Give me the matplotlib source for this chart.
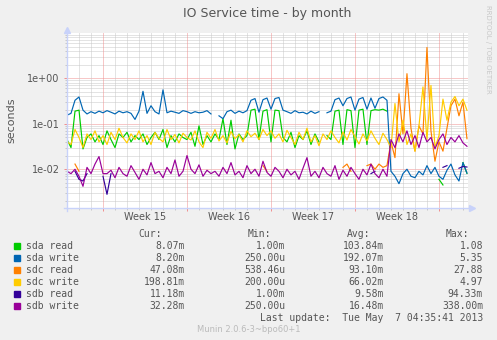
import numpy as np
import matplotlib
matplotlib.use("Agg")
import matplotlib.pyplot as plt
from matplotlib.lines import Line2D
from matplotlib.patches import Rectangle
from matplotlib.transforms import blended_transform_factory

# one sample every 8 hours, values in milliseconds (NaN = unknown)
nan = np.nan

sda_read = [45, 30, 190, 200, 28, 50, 60, 40, 55, 35,
            70, 45, 30, 60, 50, 65, 40, 55, 45, 60,
            35, 50, 65, 45, 75, 30, 55, 40, 60, 50,
            45, 65, 32, 90, 35, 55, 40, 60, 45, 130,
            35, 120, 28, 60, 45, 55, 200, 210, 45, 190,
            205, 40, 200, 195, 50, 40, 65, 30, 55, 45,
            70, 35, 60, 40, nan, 55, 45, 190, 200, 35,
            205, 195, 30, 200, 210, 35, 195, 205, 200, 210,
            190, nan, nan, nan, nan, nan, nan, nan, nan, nan,
            nan, nan, nan, 6, 4.5, nan, nan, nan, nan, 14,
            8.1]

sda_write = [155, 170, 330, 390, 200, 165, 185, 170, 190, 175,
             195, 180, 165, 190, 175, 185, 170, 125, 190, 520,
             170, 250, 185, 165, 560, 175, 190, 180, 170, 195,
             185, 170, 185, 175, 180, 195, 165, nan, 150, 130,
             185, 200, 170, 190, 175, 195, 330, 360, 180, 340,
             370, 210, 360, 380, 200, 185, 170, 195, 175, 180,
             165, 190, 170, 185, nan, 175, 190, 340, 370, 250,
             360, 390, 200, 350, 380, 210, 370, 220, 360, 390,
             330, 9, 7, 4.8, 8, 10, 7, 6.5, 9, 7.5,
             12, 8, 11, 7, 6, 9.5, 13, 7.5, 5.5, 14,
             8.2]

sdc_read = [nan, nan, 13, 9, nan, nan, nan, nan, nan, nan,
            nan, nan, nan, nan, nan, nan, nan, nan, nan, nan,
            nan, nan, nan, nan, nan, nan, nan, nan, nan, nan,
            nan, nan, nan, nan, nan, nan, nan, nan, nan, nan,
            nan, nan, nan, nan, nan, nan, nan, nan, nan, 12,
            9, nan, nan, nan, nan, nan, nan, nan, nan, nan,
            nan, nan, nan, nan, nan, nan, nan, nan, nan, 11,
            13, 9, nan, nan, nan, 12, 13, 10, 13, 11,
            12, 40, 18, 460, 60, 1270, 80, 25, 90, 60,
            4800, 70, 15, 40, 25, 80, 250, 350, 150, 300,
            47]

sdc_write = [40, 35, 75, 50, 30, 60, 45, 70, 40, 55,
             35, 65, 45, 80, 50, 38, 60, 45, 70, 40,
             55, 35, 65, 48, 40, 75, 45, 58, 38, 62,
             50, 44, 70, 40, 30, 65, 48, 75, 42, 55,
             38, 68, 47, 58, 40, 70, 52, 62, 45, 75,
             55, 70, 48, 60, 40, 72, 50, 35, 65, 45,
             80, 40, 55, 33, 60, 45, 70, 50, 38, 66,
             44, 75, 52, 36, 60, 42, 70, 48, 35, 62,
             45, 30, 280, 40, 120, 35, 60, 25, 90, 650,
             45, 700, 30, 55, 350, 120, 300, 400, 250, 350,
             199]

sdb_read = [nan, nan, 9, 6, 5.5, 8, nan, nan, nan, 7,
            2.8, 8, nan, nan, nan, nan, nan, nan, nan, nan,
            nan, nan, nan, nan, nan, nan, nan, nan, nan, nan,
            nan, nan, nan, nan, nan, nan, nan, nan, nan, nan,
            nan, nan, nan, nan, nan, nan, nan, nan, nan, nan,
            nan, nan, nan, nan, nan, nan, nan, nan, nan, nan,
            nan, nan, nan, nan, nan, nan, nan, nan, nan, nan,
            nan, nan, nan, nan, nan, nan, 8, 9, nan, nan,
            nan, nan, nan, nan, nan, nan, nan, nan, nan, nan,
            nan, nan, nan, nan, 11, 12, nan, nan, 10.5, 11.5,
            11.18]

sdb_write = [9, 8, 10, 7, 4.2, 11, 8, 13, 19, 8,
             8, 9.5, 6.5, 11, 8, 7, 12, 8.5, 6, 10,
             7.5, 14, 8, 9, 6.5, 11, 8, 16, 7, 9,
             20, 10, 8, 12.5, 7, 9.5, 8, 9, 7, 11,
             8, 14, 7.5, 9, 6.5, 12, 8, 10, 7, 15,
             8.5, 7, 11, 9, 6.5, 10, 7.5, 9, 6, 10.5,
             18, 7, 9, 6.5, 11, 8, 7, 12, 6, 9.5,
             7, 11, 8, 6, 10, 7.5, 13, 8, 6.5, 10,
             7, 45, 30, 60, 40, 70, 35, 55, 30, 65,
             40, 50, 28, 45, 60, 35, 50, 40, 55, 38,
             32]

names = ["sda read", "sda write", "sdc read", "sdc write", "sdb read", "sdb write"]
colors = ["#00CC00", "#0066B3", "#FF8000", "#FFCC00", "#330099", "#990099"]
series = [sda_read, sda_write, sdc_read, sdc_write, sdb_read, sdb_write]

cur = ["8.07m", "8.20m", "47.08m", "198.81m", "11.18m", "32.28m"]
vmin = ["1.00m", "250.00u", "538.46u", "200.00u", "1.00m", "250.00u"]
avg = ["103.84m", "192.07m", "93.10m", "66.02m", "9.58m", "16.48m"]
vmax = ["1.08", "5.35", "27.88", "4.97", "94.33m", "338.00m"]

weeks = ["Week 15", "Week 16", "Week 17", "Week 18"]
week_starts = [3, 10, 17, 24, 31]   # days since left edge

days = np.arange(len(sda_read)) / 3.0

W, H = 497, 340
fig = plt.figure(figsize=(W / 100, H / 100), dpi=100, facecolor="#F0F0F0")
ax = fig.add_axes([67 / W, 1 - 208 / H, 401 / W, 175 / H])
ax.set_facecolor("white")
ax.set_yscale("log")
ax.set_xlim(0, 33.42)
ax.set_ylim(0.0014, 10)
for s in ax.spines.values():
    s.set_visible(False)

# grid: grey dotted minor lines, red dotted major lines
dot = (0, (1, 1))
grey = "#C8C8C8"
red = "#F09090"
minor_y = [k * 10.0 ** e for e in range(-3, 1) for k in range(2, 10)]
minor_y = [v for v in minor_y if 0.0014 < v < 10]
for v in minor_y:
    ax.axhline(v, color=grey, lw=0.72, ls=dot, zorder=1)
for v in [0.01, 0.1, 1.0]:
    ax.axhline(v, color=red, lw=0.72, ls=dot, zorder=1)
for d in range(1, 34):
    if d in week_starts:
        ax.axvline(d, color=red, lw=0.72, ls=dot, zorder=1)
    else:
        ax.axvline(d, color=grey, lw=0.72, ls=dot, zorder=1)

# small tick marks outside the plot area
ax.set_xticks([d for d in range(1, 34) if d not in week_starts], minor=True)
ax.set_xticks(week_starts)
ax.set_xticklabels([])
ax.tick_params(axis="x", which="minor", length=1.5, width=0.72, color=grey)
ax.tick_params(axis="x", which="major", length=2.2, width=0.72, color=red)
ax.set_yticks([0.01, 0.1, 1.0])
ax.set_yticklabels(["1e-02", "1e-01", "1e+00"])
ax.set_yticks(minor_y, minor=True)
ax.yaxis.set_minor_formatter(matplotlib.ticker.NullFormatter())
ax.tick_params(axis="y", which="minor", length=1.5, width=0.72, color=grey)
ax.tick_params(axis="y", which="major", length=2.2, width=0.72, color=red,
               labelsize=7, labelcolor="#555555", pad=3)

for vals, c in zip(series, colors):
    ax.plot(days, np.array(vals) / 1000.0, color=c, lw=0.85, zorder=3)

# axis lines with arrows
axc = "#C8D2FA"
def px(x, y):
    return x / W, 1 - y / H
fig.add_artist(Line2D(*zip(px(67, 211), px(67, 30)), color=axc, lw=1.0))
fig.add_artist(Line2D(*zip(px(64, 208), px(471, 208)), color=axc, lw=1.0))
fig.add_artist(Line2D([px(67, 27)[0]], [px(67, 30)[1]], marker="^", ms=5,
                      color=axc, mec=axc))
fig.add_artist(Line2D([px(472, 208)[0]], [px(472, 208)[1]], marker=">", ms=5,
                      color=axc, mec=axc))

txt = "#555555"
fig.text(*px(267, 14), "IO Service time - by month", ha="center", va="center",
         fontsize=9, color=txt)
fig.text(*px(11, 120), "seconds", ha="center", va="center", rotation=90,
         fontsize=8, color=txt)
fig.text(*px(488, 5), "RRDTOOL / TOBI OETIKER", ha="center", va="top",
         rotation=-90, fontsize=5, color="#C8C8C8")

tr = blended_transform_factory(ax.transData, fig.transFigure)
for i, w in enumerate(weeks):
    mid = (week_starts[i] + week_starts[i + 1]) / 2
    ax.text(mid, 1 - 216.5 / H, w, transform=tr, ha="center", va="center",
            fontsize=7, color=txt)

mono = "DejaVu Sans Mono"
for x, h in zip([162, 271, 370, 469], ["Cur:", "Min:", "Avg:", "Max:"]):
    fig.text(*px(x, 233.7), h, ha="right", va="center", fontsize=7,
             family=mono, color=txt)
for i in range(6):
    y = 245.7 + 12 * i
    fig.add_artist(Rectangle(px(14, y + 3), 6 / W, 6 / H, color=colors[i]))
    fig.text(*px(26, y), names[i], ha="left", va="center", fontsize=7,
             family=mono, color=txt)
    for x, col in zip([185, 285, 384, 483], [cur, vmin, avg, vmax]):
        fig.text(*px(x, y), col[i], ha="right", va="center", fontsize=7,
                 family=mono, color=txt)

fig.text(*px(483, 317.7), "Last update:  Tue May  7 04:35:41 2013", ha="right",
         va="center", fontsize=7, family=mono, color=txt)
fig.text(*px(248.5, 329), "Munin 2.0.6-3~bpo60+1", ha="center", va="center",
         fontsize=6, color="#BBBBBB")

fig.savefig("out.png", dpi=100, facecolor=fig.get_facecolor())
